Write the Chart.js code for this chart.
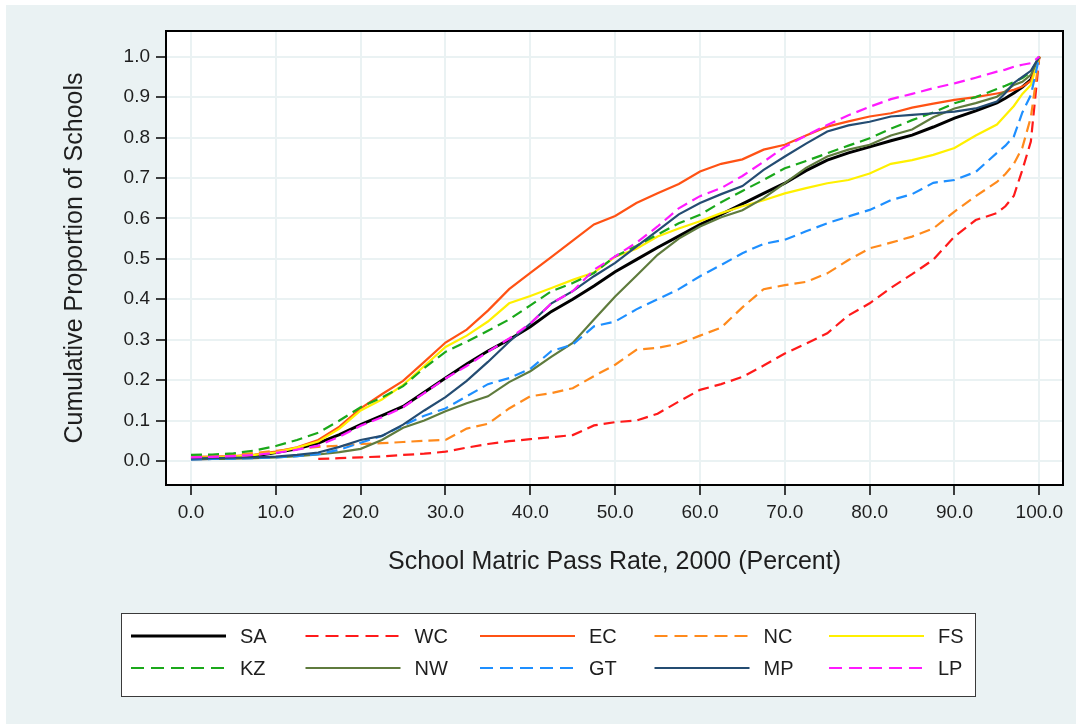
<!DOCTYPE html>
<html>
<head>
<meta charset="utf-8">
<title>Cumulative Proportion of Schools by Matric Pass Rate, 2000</title>
<script src="https://cdn.jsdelivr.net/npm/chart.js@4.4.1/dist/chart.umd.min.js"></script>
<style>
  html, body { margin: 0; padding: 0; background: #fff; }
  #chart { display: block; }
</style>
</head>
<body>
<canvas id="chart" width="1076" height="724"></canvas>
<script>
var passRate = [0, 2.5, 5, 7.5, 10, 12.5, 15, 17.5, 20, 22.5, 25, 27.5, 30, 32.5, 35, 37.5,
  40, 42.5, 45, 47.5, 50, 52.5, 55, 57.5, 60, 62.5, 65, 67.5, 70, 72.5, 75, 77.5,
  80, 82.5, 85, 87.5, 90, 92.5, 95, 96, 97, 98, 99, 100];

var provinces = ["SA", "WC", "EC", "NC", "FS", "KZ", "NW", "GT", "MP", "LP"];

var saShare = [0.005, 0.006, 0.008, 0.012, 0.021, 0.03, 0.044, 0.065, 0.09, 0.112, 0.135, 0.17, 0.205, 0.24, 0.272, 0.3,
  0.332, 0.37, 0.4, 0.433, 0.468, 0.498, 0.528, 0.556, 0.585, 0.61, 0.636, 0.662, 0.687, 0.718, 0.744, 0.762,
  0.777, 0.792, 0.806, 0.826, 0.848, 0.866, 0.886, 0.897, 0.91, 0.925, 0.943, 1.0];
var wcShare = [null, null, null, null, null, null, 0.005, 0.007, 0.009, 0.011, 0.015, 0.018, 0.023, 0.033, 0.042, 0.049,
  0.054, 0.059, 0.064, 0.088, 0.096, 0.1, 0.117, 0.147, 0.176, 0.19, 0.208, 0.236, 0.266, 0.29, 0.316, 0.36,
  0.39, 0.428, 0.462, 0.498, 0.555, 0.596, 0.613, 0.63, 0.656, 0.72, 0.79, 1.0];
var ecShare = [0.01, 0.011, 0.012, 0.016, 0.023, 0.034, 0.052, 0.085, 0.13, 0.165, 0.198, 0.245, 0.293, 0.325, 0.372, 0.425,
  0.465, 0.505, 0.545, 0.585, 0.606, 0.638, 0.662, 0.685, 0.716, 0.735, 0.746, 0.77, 0.782, 0.805, 0.827, 0.84,
  0.852, 0.86, 0.874, 0.884, 0.893, 0.9, 0.909, 0.913, 0.918, 0.926, 0.94, 1.0];
var ncShare = [0.01, 0.012, 0.015, 0.02, 0.025, 0.03, 0.035, 0.038, 0.042, 0.044, 0.047, 0.05, 0.052, 0.08, 0.092, 0.13,
  0.16, 0.168, 0.18, 0.21, 0.238, 0.275, 0.28, 0.29, 0.31, 0.33, 0.38, 0.425, 0.435, 0.443, 0.464, 0.497,
  0.526, 0.54, 0.555, 0.575, 0.617, 0.655, 0.69, 0.71, 0.735, 0.775, 0.85, 1.0];
var fsShare = [0.008, 0.009, 0.011, 0.015, 0.021, 0.033, 0.048, 0.08, 0.125, 0.152, 0.188, 0.235, 0.282, 0.31, 0.345, 0.39,
  0.408, 0.428, 0.448, 0.466, 0.505, 0.525, 0.555, 0.575, 0.593, 0.613, 0.63, 0.645, 0.662, 0.675, 0.687, 0.695,
  0.711, 0.735, 0.744, 0.757, 0.774, 0.805, 0.832, 0.855, 0.878, 0.908, 0.93, 1.0];
var kzShare = [0.015, 0.016, 0.019, 0.026, 0.037, 0.052, 0.07, 0.1, 0.133, 0.157, 0.185, 0.23, 0.27, 0.295, 0.322, 0.35,
  0.385, 0.42, 0.44, 0.465, 0.506, 0.532, 0.56, 0.588, 0.609, 0.64, 0.668, 0.695, 0.724, 0.742, 0.761, 0.78,
  0.798, 0.822, 0.843, 0.862, 0.885, 0.9, 0.92, 0.928, 0.937, 0.947, 0.962, 1.0];
var nwShare = [0.005, 0.005, 0.006, 0.007, 0.009, 0.012, 0.016, 0.022, 0.03, 0.052, 0.082, 0.1, 0.123, 0.143, 0.16, 0.195,
  0.222, 0.258, 0.292, 0.35, 0.407, 0.458, 0.51, 0.55, 0.58, 0.603, 0.62, 0.65, 0.687, 0.725, 0.753, 0.77,
  0.782, 0.805, 0.82, 0.85, 0.872, 0.885, 0.901, 0.915, 0.93, 0.938, 0.955, 1.0];
var gtShare = [0.004, 0.005, 0.006, 0.007, 0.009, 0.012, 0.017, 0.028, 0.045, 0.062, 0.088, 0.112, 0.13, 0.16, 0.19, 0.205,
  0.228, 0.272, 0.288, 0.333, 0.345, 0.375, 0.4, 0.425, 0.457, 0.485, 0.514, 0.537, 0.547, 0.568, 0.588, 0.605,
  0.621, 0.645, 0.66, 0.688, 0.695, 0.715, 0.762, 0.78, 0.803, 0.862, 0.905, 1.0];
var mpShare = [0.006, 0.007, 0.008, 0.009, 0.011, 0.015, 0.021, 0.035, 0.052, 0.062, 0.09, 0.125, 0.158, 0.198, 0.245, 0.295,
  0.34, 0.39, 0.42, 0.457, 0.49, 0.53, 0.57, 0.61, 0.638, 0.66, 0.68, 0.72, 0.753, 0.785, 0.815, 0.83,
  0.839, 0.852, 0.856, 0.86, 0.864, 0.872, 0.889, 0.91, 0.935, 0.95, 0.965, 1.0];
var lpShare = [0.009, 0.01, 0.012, 0.015, 0.02, 0.028, 0.038, 0.06, 0.087, 0.108, 0.133, 0.168, 0.204, 0.235, 0.27, 0.303,
  0.34, 0.39, 0.42, 0.473, 0.506, 0.54, 0.58, 0.625, 0.655, 0.675, 0.705, 0.74, 0.777, 0.805, 0.831, 0.855,
  0.876, 0.895, 0.908, 0.922, 0.934, 0.948, 0.963, 0.968, 0.975, 0.98, 0.984, 1.0];

var xTicks = [0, 10, 20, 30, 40, 50, 60, 70, 80, 90, 100];
var yTicks = [0, 0.1, 0.2, 0.3, 0.4, 0.5, 0.6, 0.7, 0.8, 0.9, 1.0];

(function () {
  "use strict";

  var FONT = "'Liberation Sans', Arial, sans-serif";
  var INK = "#1e1e1e";
  var DASH = [11, 6];

  // Stata-ish s2color look: per-province stroke style.
  var styles = {
    SA: { color: "#000000", width: 3, dash: [] },
    WC: { color: "#ff1a1a", width: 2.2, dash: DASH },
    EC: { color: "#ff5214", width: 2.2, dash: [] },
    NC: { color: "#ff8a1c", width: 2.2, dash: DASH },
    FS: { color: "#fff000", width: 2.2, dash: [] },
    KZ: { color: "#1aa81a", width: 2.2, dash: DASH },
    NW: { color: "#5f7b3d", width: 2.2, dash: [] },
    GT: { color: "#1e8fff", width: 2.2, dash: DASH },
    MP: { color: "#244c72", width: 2.2, dash: [] },
    LP: { color: "#ff1aff", width: 2.2, dash: DASH },
  };

  var shares = [saShare, wcShare, ecShare, ncShare, fsShare, kzShare, nwShare, gtShare, mpShare, lpShare];

  function toPoints(values) {
    return passRate.map(function (x, i) { return { x: x, y: values[i] }; });
  }

  var datasets = provinces.map(function (name, i) {
    var s = styles[name];
    return {
      label: name,
      data: toPoints(shares[i]),
      borderColor: s.color,
      backgroundColor: s.color,
      borderWidth: s.width,
      borderDash: s.dash,
      pointRadius: 0,
      tension: 0,
      spanGaps: false,
      order: provinces.length - i, // later provinces drawn on top, as in the original
    };
  });

  var backdrop = {
    id: "backdrop",
    beforeDraw: function (chart) {
      var ctx = chart.ctx, a = chart.chartArea;
      ctx.save();
      ctx.fillStyle = "#ffffff";
      ctx.fillRect(0, 0, chart.width, chart.height);
      ctx.fillStyle = "#eaf2f3";
      ctx.fillRect(6, 5, chart.width - 6, chart.height - 5);
      ctx.fillStyle = "#ffffff";
      ctx.fillRect(a.left, a.top, a.right - a.left, a.bottom - a.top);
      ctx.restore();
    },
    afterDatasetsDraw: function (chart) {
      var ctx = chart.ctx, a = chart.chartArea;
      ctx.save();
      ctx.strokeStyle = "#000";
      ctx.lineWidth = 2;
      ctx.strokeRect(a.left, a.top, a.right - a.left, a.bottom - a.top);
      ctx.restore();
    },
  };

  // Boxed 5x2 legend under the axis title, sample line + code per entry.
  var gridLegend = {
    id: "gridLegend",
    afterDraw: function (chart, _args, opts) {
      var ctx = chart.ctx;
      ctx.save();
      ctx.fillStyle = "#fff";
      ctx.fillRect(opts.box.x, opts.box.y, opts.box.w, opts.box.h);
      ctx.strokeStyle = "#3a3a3a";
      ctx.lineWidth = 1;
      ctx.strokeRect(opts.box.x + 0.5, opts.box.y + 0.5, opts.box.w, opts.box.h);
      ctx.font = opts.fontSize + "px " + FONT;
      ctx.textBaseline = "middle";
      ctx.textAlign = "left";
      chart.data.datasets.forEach(function (ds, i) {
        var col = i % opts.columns;
        var row = Math.floor(i / opts.columns);
        var x = opts.x0 + col * opts.colStep;
        var y = opts.rowY[row];
        ctx.strokeStyle = ds.borderColor;
        ctx.lineWidth = ds.borderWidth;
        ctx.setLineDash(ds.borderDash && ds.borderDash.length ? [13, 7] : []);
        ctx.beginPath();
        ctx.moveTo(x, y);
        ctx.lineTo(x + opts.sampleLen, y);
        ctx.stroke();
        ctx.setLineDash([]);
        ctx.fillStyle = INK;
        ctx.fillText(ds.label, x + opts.textGap, y + 1);
      });
      ctx.restore();
    },
  };

  new Chart(document.getElementById("chart"), {
    type: "line",
    data: { datasets: datasets },
    plugins: [backdrop, gridLegend],
    options: {
      responsive: false,
      animation: false,
      devicePixelRatio: 1,
      layout: { padding: { top: 31, right: 13, bottom: 139, left: 0 } },
      plugins: {
        legend: { display: false },
        tooltip: { enabled: false },
        gridLegend: {
          box: { x: 121, y: 613, w: 854, h: 83 },
          columns: 5,
          x0: 131,
          colStep: 174.5,
          rowY: [636, 668],
          sampleLen: 95,
          textGap: 109,
          fontSize: 20,
        },
      },
      scales: {
        x: {
          type: "linear",
          min: -2.947,
          max: 102.79,
          afterBuildTicks: function (scale) {
            scale.ticks = xTicks.map(function (v) { return { value: v }; });
          },
          afterFit: function (scale) { scale.height = 100; },
          grid: { color: "#eaf2f3", lineWidth: 2, tickColor: "#000", tickWidth: 1.5, tickLength: 10 },
          border: { display: false },
          ticks: {
            color: INK,
            padding: 6,
            maxRotation: 0,
            font: { family: FONT, size: 19 },
            callback: function (v) { return Number(v).toFixed(1); },
          },
          title: {
            display: true,
            text: "School Matric Pass Rate, 2000 (Percent)",
            color: INK,
            font: { family: FONT, size: 25 },
            padding: { top: 0, bottom: 8 },
          },
        },
        y: {
          type: "linear",
          min: -0.0594,
          max: 1.0635,
          afterBuildTicks: function (scale) {
            scale.ticks = yTicks.map(function (v) { return { value: v }; });
          },
          afterFit: function (scale) { scale.width = 166; },
          grid: { color: "#eaf2f3", lineWidth: 2, tickColor: "#000", tickWidth: 1.5, tickLength: 10 },
          border: { display: false },
          ticks: {
            color: INK,
            padding: 6,
            font: { family: FONT, size: 19 },
            callback: function (v) { return Number(v).toFixed(1); },
          },
          title: {
            display: true,
            text: "Cumulative Proportion of Schools",
            color: INK,
            font: { family: FONT, size: 25 },
            padding: { top: 60, bottom: 0 },
          },
        },
      },
    },
  });
})();
</script>
</body>
</html>
